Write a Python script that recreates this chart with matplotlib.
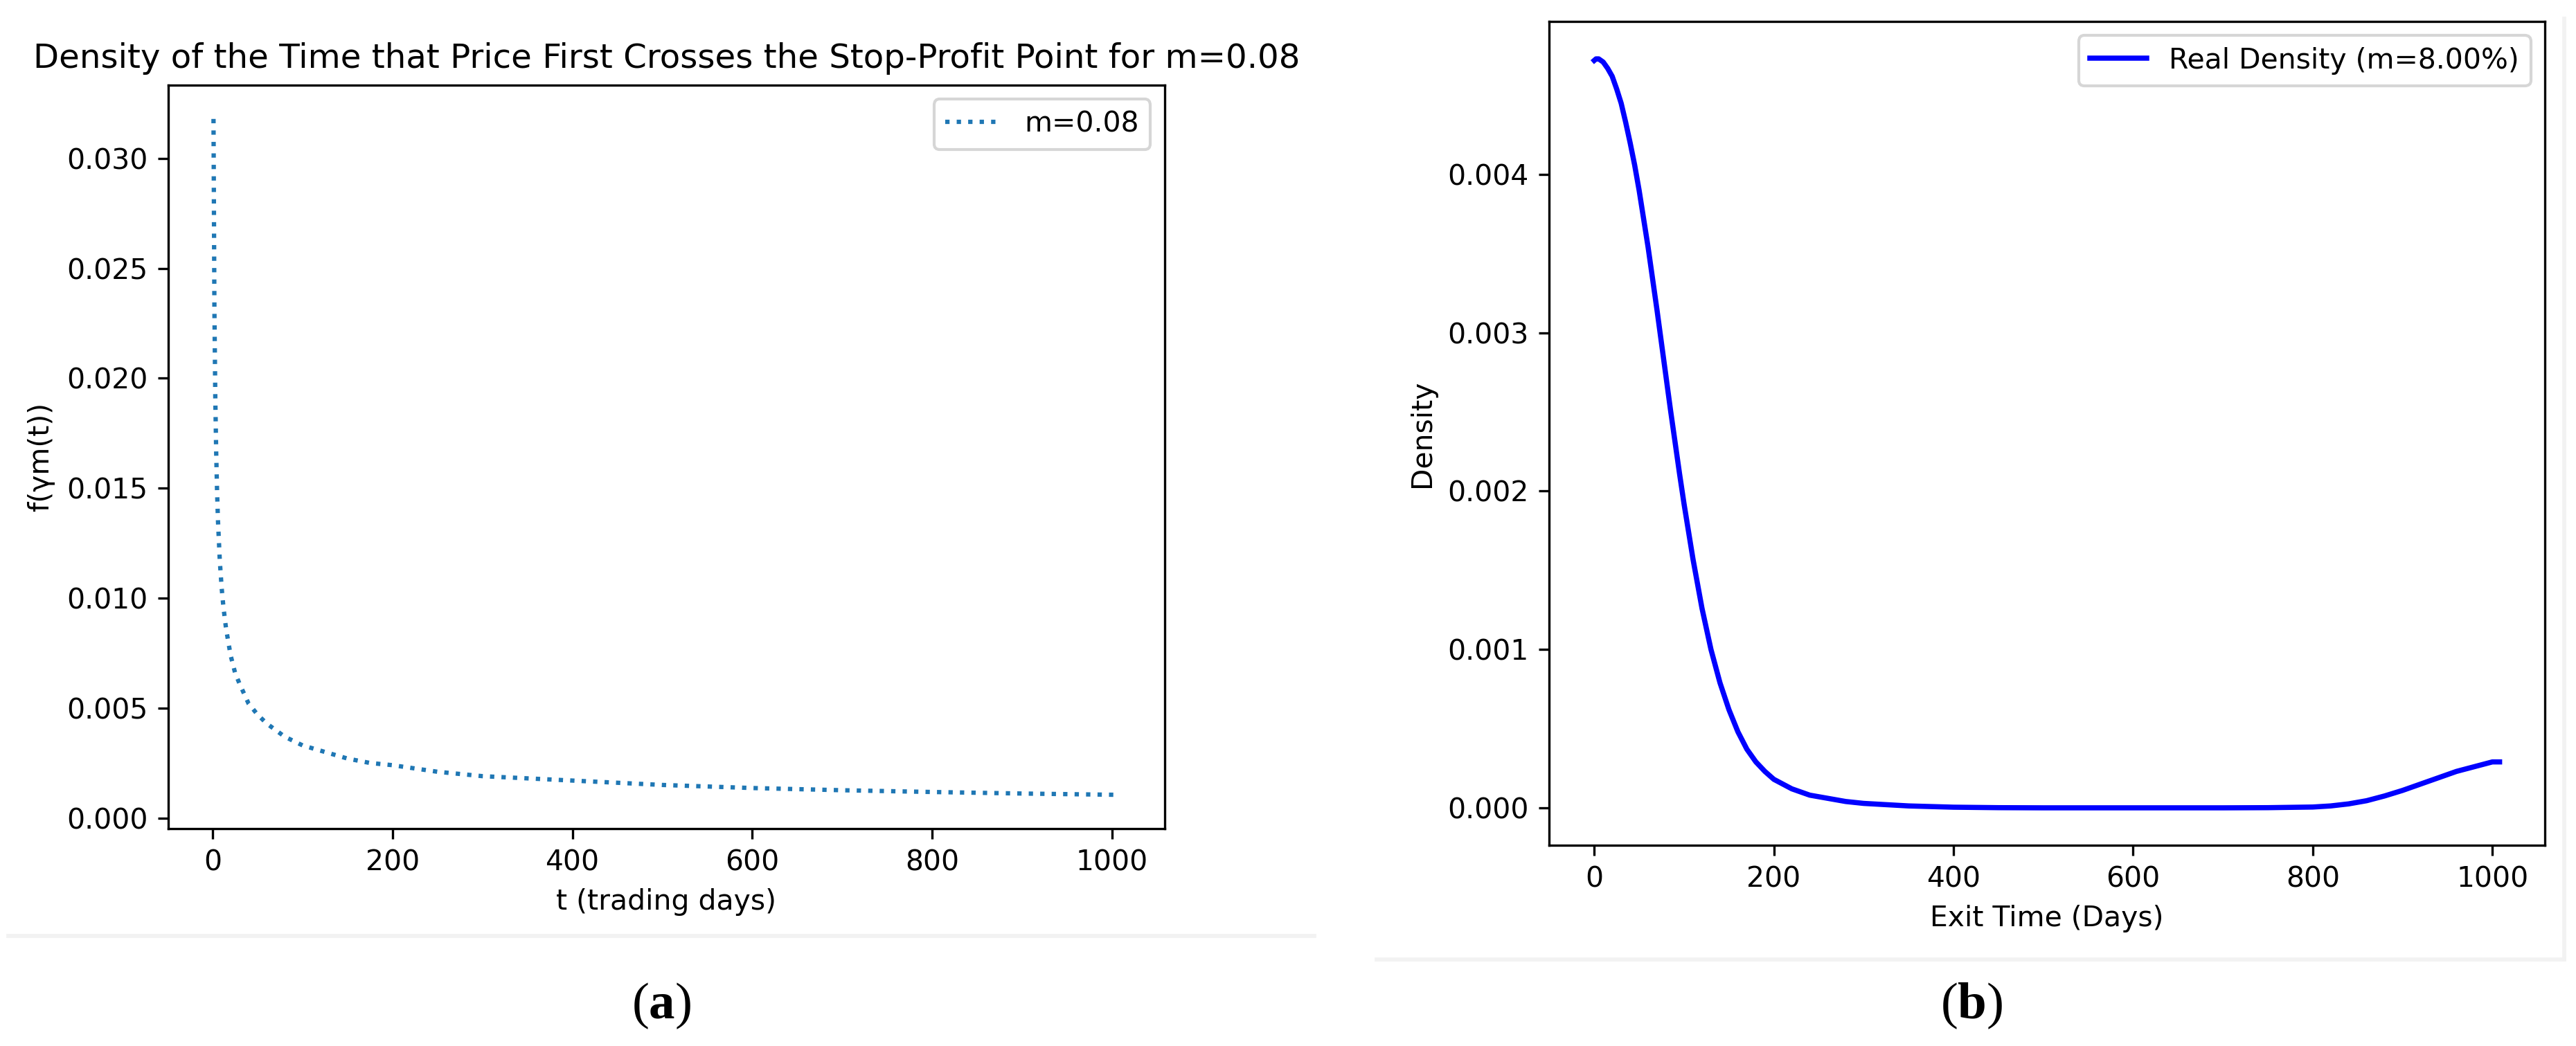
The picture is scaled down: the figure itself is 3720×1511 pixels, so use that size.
import matplotlib
matplotlib.use("Agg")
import matplotlib.pyplot as plt
from matplotlib.lines import Line2D

# values
# (a) first-crossing density, t in trading days
t_left = [1, 2, 3, 4, 5, 6, 8, 10, 12, 15, 20, 25, 30, 40, 50, 60, 70, 80, 90,
          100, 125, 150, 175, 200, 250, 300, 350, 400, 450, 500, 600, 700, 800,
          900, 1008]
f_left = [0.0318, 0.0232, 0.0191, 0.0166, 0.0148, 0.0135, 0.0117, 0.0105,
          0.0096, 0.0086, 0.0074, 0.0066, 0.0061, 0.0052, 0.0047, 0.0043,
          0.0040, 0.0037, 0.0035, 0.0033, 0.0030, 0.0027, 0.0025, 0.0024,
          0.0021, 0.0019, 0.0018, 0.0017, 0.0016, 0.0015, 0.00136, 0.00126,
          0.00118, 0.00111, 0.00105]

# (b) real density of exit time
t_right = [0, 2, 5, 10, 15, 20, 25, 30, 35, 40, 45, 50, 55, 60, 65, 70, 75, 80,
           85, 90, 95, 100, 110, 120, 130, 140, 150, 160, 170, 180, 190, 200,
           220, 240, 260, 280, 300, 350, 400, 450, 500, 600, 700, 750, 800,
           820, 840, 860, 880, 900, 920, 940, 960, 980, 1000, 1008]
d_right = [0.00472, 0.00473, 0.00473, 0.00471, 0.00467, 0.00462, 0.00454,
           0.00445, 0.00433, 0.00420, 0.00406, 0.00390, 0.00372, 0.00354,
           0.00334, 0.00314, 0.00293, 0.00272, 0.00251, 0.00231, 0.00211,
           0.00192, 0.00157, 0.00126, 0.00100, 0.00079, 0.00062, 0.00048,
           0.00037, 0.00029, 0.00023, 0.00018, 0.00012, 0.00008, 0.00006,
           0.00004, 0.000028, 0.000012, 0.000004, 0.000001, 0.0, 0.0, 0.0,
           0.000001, 0.000005, 0.000012, 0.000025, 0.000045, 0.000075,
           0.00011, 0.00015, 0.00019, 0.00023, 0.00026, 0.00029, 0.00029]

plt.rcParams['font.size'] = 9.8
plt.rcParams['mathtext.fontset'] = 'custom'
plt.rcParams['mathtext.rm'] = 'Liberation Serif'
plt.rcParams['mathtext.bf'] = 'Liberation Serif:bold'

fig = plt.figure(figsize=(12.4, 1511 / 300), dpi=300)

# left panel
ax1 = fig.add_axes([0.0653, 0.2078, 0.3868, 0.7108])
ax1.plot(t_left, f_left, linestyle=':', color='#1f77b4', lw=1.5, label='m=0.08')
ax1.set_title('Density of the Time that Price First Crosses the Stop-Profit Point for m=0.08',
              fontsize=11.6)
ax1.set_xlabel('t (trading days)')
ax1.set_ylabel('f(γm(t))')
ax1.set_yticks([0.0, 0.005, 0.010, 0.015, 0.020, 0.025, 0.030])
ax1.set_xticks([0, 200, 400, 600, 800, 1000])
ax1.legend(loc='upper right')

# right panel
ax2 = fig.add_axes([0.6013, 0.1919, 0.3866, 0.7876])
ax2.plot(t_right, d_right, color='blue', lw=1.8, label='Real Density (m=8.00%)')
ax2.set_xlabel('Exit Time (Days)')
ax2.set_ylabel('Density')
ax2.set_yticks([0.0, 0.001, 0.002, 0.003, 0.004])
ax2.set_xticks([0, 200, 400, 600, 800, 1000])
ax2.legend(loc='upper right')

# faint frames of the two pasted images
grey = '#f2f2f2'
fig.add_artist(Line2D([0.0032, 0.5102], [0.1052, 0.1052], color=grey, lw=1.4,
                      transform=fig.transFigure))
fig.add_artist(Line2D([0.5344, 0.9954], [0.0827, 0.0827], color=grey, lw=1.4,
                      transform=fig.transFigure))
fig.add_artist(Line2D([0.9954, 0.9954], [0.0827, 0.982], color=grey, lw=1.4,
                      transform=fig.transFigure))

# panel letters
fig.text(0.2567, 0.0384, r'($\mathbf{a}$)', family='Liberation Serif', fontsize=18,
         ha='center', va='center')
fig.text(0.7653, 0.0384, r'($\mathbf{b}$)', family='Liberation Serif', fontsize=18,
         ha='center', va='center')

fig.savefig('out.png', dpi=300)
